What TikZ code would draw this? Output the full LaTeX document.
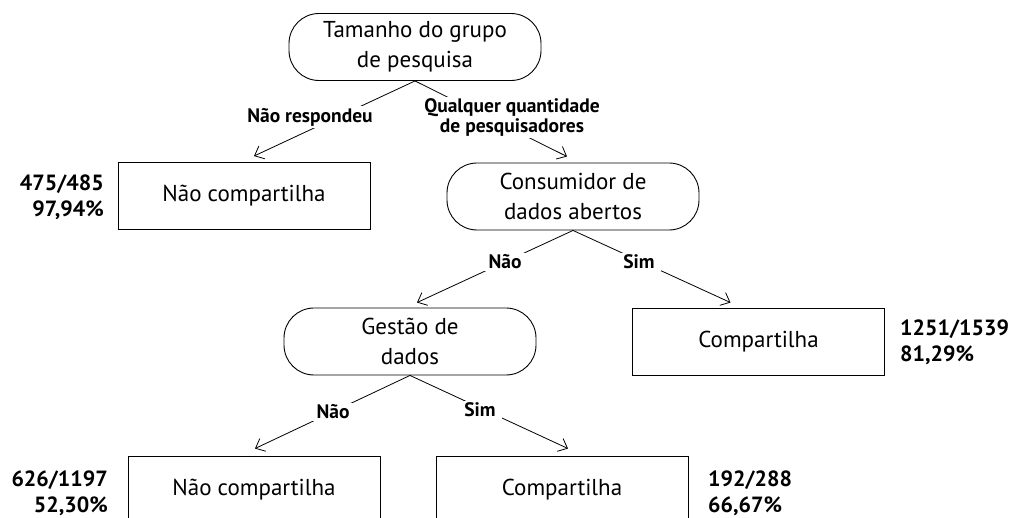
\documentclass[tikz,border=0pt]{standalone}
\usepackage{fontspec}
\setmainfont{PT Sans}
\usetikzlibrary{arrows.meta}

\begin{document}
\begin{tikzpicture}[x=1pt, y=-1pt,
  every node/.style={font=\fontsize{23}{30}\selectfont},
  question/.style={draw, rounded corners=30pt, minimum width=252pt, minimum height=67pt, align=center, line width=0.9pt},
  leaf/.style={draw, minimum width=252pt, minimum height=67pt, line width=0.9pt},
  answer/.style={fill=white, inner xsep=6pt, inner ysep=2pt, align=center, font=\bfseries\fontsize{19.5}{20}\selectfont},
  count/.style={inner sep=0pt, font=\bfseries\fontsize{22}{26}\selectfont},
  branch/.style={-{Straight Barb[length=8pt, width=14pt]}, line width=0.8pt}]

\useasboundingbox (0,0) rectangle (1013,518);

% Questions (rounded)
\node[question] (size) at (415, 47) {Tamanho do grupo\\de pesquisa};
\node[question] (consumer) at (573, 196.5) {Consumidor de\\dados abertos};
\node[question] (management) at (410, 341.5) {Gestão de\\dados};

% Leaves (plain boxes)
\node[leaf] (noshare1) at (244, 196) {Não compartilha};
\node[leaf] (share1) at (758.5, 341.5) {Compartilha};
\node[leaf] (noshare2) at (254, 489.5) {Não compartilha};
\node[leaf] (share2) at (562, 489.5) {Compartilha};

% Branches
\draw[branch] (size.south) -- ([xshift=10pt, yshift=6pt]noshare1.north);
\draw[branch] (size.south) -- ([xshift=-6pt, yshift=6pt]consumer.north);
\draw[branch] (consumer.south) -- ([xshift=7pt, yshift=5pt]management.north);
\draw[branch] (consumer.south) -- ([xshift=-28pt, yshift=5pt]share1.north);
\draw[branch] (management.south) -- ([xshift=1pt, yshift=7pt]noshare2.north);
\draw[branch] (management.south) -- ([xshift=6pt, yshift=7pt]share2.north);

% Branch labels (white, on top of the lines)
\node[answer] (none) at (310, 117) {Não respondeu};
\node[answer] (any) at (512, 117.5) {Qualquer quantidade\\de pesquisadores};
\node[answer] (cno) at (505, 262) {Não};
\node[answer] (cyes) at (639, 262) {Sim};
\node[answer] (gno) at (333, 412) {Não};
\node[answer] (gyes) at (480, 410) {Sim};

% Counts
\node[count, anchor=east, align=right] (count1) at (104, 197) {475/485\\97,94\%};
\node[count, anchor=west, align=left] (count2) at (900, 342) {1251/1539\\81,29\%};
\node[count, anchor=east, align=right] (count3) at (108, 493) {626/1197\\52,30\%};
\node[count, anchor=west, align=left] (count4) at (708, 493) {192/288\\66,67\%};

\end{tikzpicture}
\end{document}
